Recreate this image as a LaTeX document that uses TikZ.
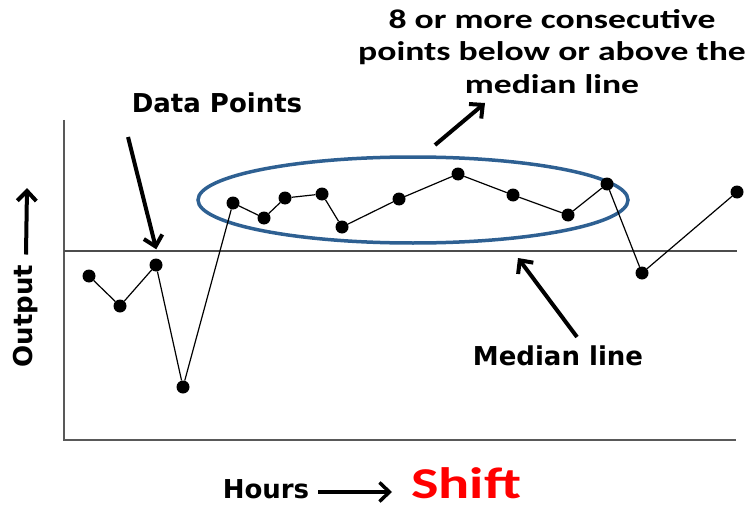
\documentclass[tikz,border=0pt]{standalone}
\usepackage{fontspec}
\setmainfont{DejaVu Sans}
\newfontfamily\notefont{Carlito}[FakeStretch=1.32]
\usetikzlibrary{arrows.meta}
\definecolor{ringblue}{RGB}{46,96,146}
\tikzset{
  dot/.style={circle, fill=black, inner sep=0pt, minimum size=13pt},
  axisline/.style={draw=black!65, line width=2pt},
  pointer/.style={line width=4pt, -{Straight Barb[length=10pt, width=19pt]}},
  tag/.style={inner sep=0pt, font=\fontsize{26}{30}\selectfont\bfseries},
}
\begin{document}
\begin{tikzpicture}[x=1pt, y=-1pt]
  \useasboundingbox (0,0) rectangle (749,508);
  % axes and median line
  \coordinate (ytop) at (64,120);
  \coordinate (origin) at (64,440);
  \coordinate (xend) at (736,440);
  \coordinate (medl) at (64,251);
  \coordinate (medr) at (737,251);
  \draw[axisline] (ytop) -- (origin) -- (xend);
  \draw[black!70, line width=1.5pt] (medl) -- (medr);
  % run of points above the median
  \draw[ringblue, line width=3.5pt] (413,200) ellipse [x radius=215, y radius=43];
  % data points
  \foreach \px/\py [count=\i] in {89/276, 120/306, 156/265, 183/387, 233/203,
      264/218, 285/198, 322/194, 342/227, 399/199, 458/174, 513/195,
      568/215, 607/184, 642/273, 737/192}
    \node[dot] (p\i) at (\px,\py) {};
  \foreach \i [evaluate=\i as \j using int(\i+1)] in {1,...,15}
    \draw[line width=1.2pt] (p\i) -- (p\j);
  % labels
  \node[tag] (datapts) at (217,103) {Data Points};
  \node[tag] (median) at (558,356) {Median line};
  \node[align=center, anchor=north, inner sep=0pt,
        font=\notefont\bfseries\fontsize{27}{32.5}\selectfont] (runtext) at (552,9)
    {8 or more consecutive\\points below or above the\\median line};
  \node[tag, rotate=90] (output) at (26,316) {Output};
  \node[tag, anchor=base] (hours) at (266,498) {Hours};
  \node[anchor=base, inner sep=0pt, text=red,
        font=\notefont\bfseries\fontsize{44}{48}\selectfont] (shift) at (466,498) {Shift};
  % pointers
  \coordinate (dptail) at (128,137);
  \coordinate (runtail) at (435,145);
  \coordinate (runtip) at (485,103);
  \coordinate (medtail) at (577,337);
  \coordinate (medtip) at (518,258);
  \coordinate (outtip) at (27,188);
  \coordinate (hrstail) at (318,492);
  \coordinate (hrstip) at (392,492);
  \draw[pointer, shorten >=-1pt] (dptail) -- ([yshift=10pt]p3.north);
  \draw[pointer] (runtail) -- (runtip);
  \draw[pointer] (medtail) -- (medtip);
  \draw[pointer] ([yshift=10pt]output.east) -- (outtip);
  \draw[pointer, line width=3.5pt] (hrstail) -- (hrstip);
\end{tikzpicture}
\end{document}
